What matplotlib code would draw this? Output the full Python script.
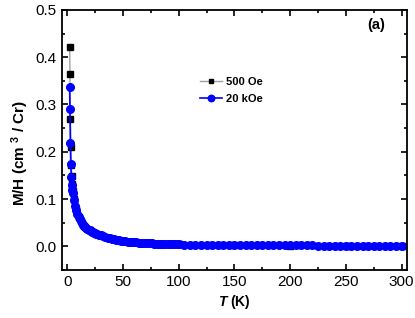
import matplotlib
matplotlib.use('Agg')
import matplotlib.pyplot as plt
from matplotlib.ticker import MultipleLocator

plt.rcParams['font.family'] = ['Liberation Sans', 'DejaVu Sans']
plt.rcParams['mathtext.fontset'] = 'custom'
plt.rcParams['mathtext.it'] = 'Liberation Sans:italic:bold'
plt.rcParams['mathtext.rm'] = 'Liberation Sans:bold'
plt.rcParams['mathtext.bf'] = 'Liberation Sans:bold'

# 20 kOe data
t_20k = [2, 2.3, 2.7, 3, 3.5, 4, 4.5,
         5, 6, 7, 8, 9, 10, 11, 12, 13, 14, 15, 16, 17, 18, 19, 20,
         21, 22, 23, 24, 25, 26, 27, 28, 29, 30,
         32, 34, 36, 38, 40, 42, 44, 46, 48, 50, 52, 54, 56, 58, 60,
         62, 64, 66, 68, 70, 72, 74, 76, 78, 80, 82, 84, 86, 88, 90,
         92, 94, 96, 98, 100,
         105, 110, 115, 120, 125, 130, 135, 140, 145, 150, 155, 160, 165, 170,
         175, 180, 185, 190, 195, 200, 205, 210, 215, 220, 225, 230, 235, 240,
         245, 250, 255, 260, 265, 270, 275, 280, 285, 290, 295, 300]
mh_20k = [0.337, 0.29, 0.218, 0.175, 0.147, 0.129, 0.119,
          0.112, 0.097, 0.085, 0.076, 0.068, 0.062, 0.057, 0.053, 0.049,
          0.046, 0.043, 0.041, 0.039, 0.037, 0.035, 0.034,
          0.0325, 0.031, 0.030, 0.029, 0.028, 0.027, 0.026, 0.025, 0.024, 0.023,
          0.021, 0.0195, 0.018, 0.0168, 0.0157, 0.0147, 0.0138, 0.013, 0.0122,
          0.0115, 0.0108, 0.0102, 0.0097, 0.0092, 0.0087,
          0.0083, 0.0079, 0.0075, 0.0072, 0.0069, 0.0066, 0.0063, 0.0060,
          0.0058, 0.0056, 0.0054, 0.0052, 0.0050, 0.0048, 0.0046,
          0.0045, 0.0043, 0.0042, 0.0040, 0.0039,
          0.0036, 0.0034, 0.0032, 0.0030, 0.0029, 0.0028, 0.0027, 0.0026,
          0.0025, 0.0024, 0.0023, 0.0023, 0.0022, 0.0022, 0.0021, 0.0021,
          0.0020, 0.0020, 0.0019, 0.0019, 0.0019, 0.0018, 0.0018, 0.0018,
          0.0017, 0.0017, 0.0017, 0.0016, 0.0016, 0.0016, 0.0016, 0.0015,
          0.0015, 0.0015, 0.0015, 0.0014, 0.0014, 0.0014, 0.0014, 0.0014]

# 500 Oe data
t_500 = [2, 2.3, 2.7, 3, 3.5, 4, 4.5, 5, 6, 8, 10, 15, 20, 30, 50, 100, 150,
         200, 250, 300]
mh_500 = [0.422, 0.365, 0.27, 0.21, 0.172, 0.148, 0.132, 0.118, 0.10, 0.078,
          0.063, 0.044, 0.034, 0.023, 0.0115, 0.0039, 0.0021, 0.0017, 0.0015,
          0.0014]

fig = plt.figure(figsize=(4.15, 3.18), dpi=100)
ax = fig.add_axes([0.149, 0.151, 0.832, 0.818])

ax.plot(t_500, mh_500, color='#a0a0a0', lw=1.0, marker='s', ms=4,
        mfc='black', mec='black', label='500 Oe')
ax.plot(t_20k, mh_20k, color='#0000ff', lw=1.2, marker='o', ms=5.5,
        mfc='#0000ff', mec='#0000ff', label='20 kOe')

ax.set_xlim(-5, 305)
ax.set_ylim(-0.05, 0.5)
ax.xaxis.set_major_locator(MultipleLocator(50))
ax.xaxis.set_minor_locator(MultipleLocator(25))
ax.yaxis.set_major_locator(MultipleLocator(0.1))
ax.yaxis.set_minor_locator(MultipleLocator(0.05))
ax.tick_params(which='both', direction='in', top=True, right=True,
               labelsize=11, width=1.2)
ax.tick_params(which='major', length=4)
ax.tick_params(which='minor', length=2.5)
for s in ax.spines.values():
    s.set_linewidth(1.3)

ax.set_xlabel(r'$T$ (K)', fontsize=10, fontweight='bold', labelpad=3)
ax.set_ylabel(r'M/H (cm $^{3}$ / Cr)', fontsize=11, fontweight='bold')
ax.yaxis.set_label_coords(-0.09, 0.45)
ax.text(0.91, 0.94, '(a)', transform=ax.transAxes, fontsize=10.5,
        fontweight='bold', ha='center', va='center')

ax.legend(loc='upper left', bbox_to_anchor=(0.37, 0.78), frameon=False,
          prop={'weight': 'bold', 'size': 8}, handlelength=2.0,
          handletextpad=0.4, labelspacing=0.6, markerscale=0.85)

fig.savefig('out.png', dpi=100)
